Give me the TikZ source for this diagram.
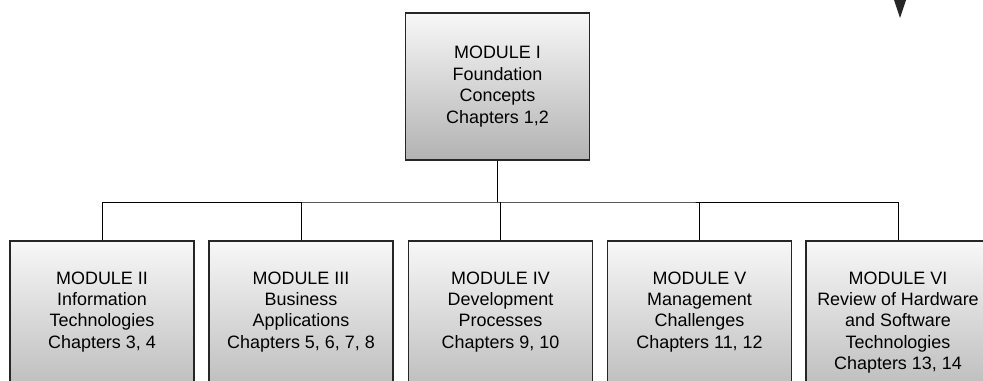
\documentclass[tikz,border=0pt]{standalone}
\usepackage{fontspec}
\setmainfont{Liberation Sans}
\usepackage{tikz}
\usetikzlibrary{positioning}

\begin{document}
\begin{tikzpicture}[x=1bp, y=1bp,
		main/.style = {draw=black!85, line width=1.3bp, top color=gray!6, bottom color=gray!60, minimum width=184bp, inner sep=0pt},
		txt/.style = {align=center, inner sep=0pt, font=\fontsize{18}{21.5}\selectfont}]
	\useasboundingbox (0,0) rectangle (983,380);
	\clip (0,0) rectangle (983,380);

	\node[main, minimum height=147bp, align=center, font=\fontsize{18}{21.5}\selectfont] (1) at (497.5,293.5) {MODULE I\\Foundation\\Concepts\\Chapters 1,2};

	\node[main, minimum height=175bp] (2) at (102,51.5) {};
	\node[main, minimum height=175bp] (3) at (301,51.5) {};
	\node[main, minimum height=175bp] (4) at (500.5,51.5) {};
	\node[main, minimum height=175bp] (5) at (699.5,51.5) {};
	\node[main, minimum height=175bp] (6) at (898,51.5) {};

	\node[txt] (t2) [below=31bp of 2.north] {MODULE II\\Information\\Technologies\\Chapters 3, 4};
	\node[txt] (t3) [below=31bp of 3.north] {MODULE III\\Business\\Applications\\Chapters 5, 6, 7, 8};
	\node[txt] (t4) [below=31bp of 4.north] {MODULE IV\\Development\\Processes\\Chapters 9, 10};
	\node[txt] (t5) [below=31bp of 5.north] {MODULE V\\Management\\Challenges\\Chapters 11, 12};
	\node[txt] (t6) [below=31bp of 6.north] {MODULE VI\\Review of Hardware\\and Software\\Technologies\\Chapters 13, 14};

	% tree lines
	\coordinate (hub) at (497.5,178);
	\draw[line width=1bp] (1.south) -- (hub);
	\draw[line width=1bp] (2.north) |- (hub) -| (6.north);
	\foreach \m in {3,4,5}
		\draw[line width=1bp] (\m.north) -- (\m.north |- hub);

	% arrow at the top right
	\fill[black!85] (894,380) -- (906,380) -- (900,362) -- cycle;
\end{tikzpicture}
\end{document}
